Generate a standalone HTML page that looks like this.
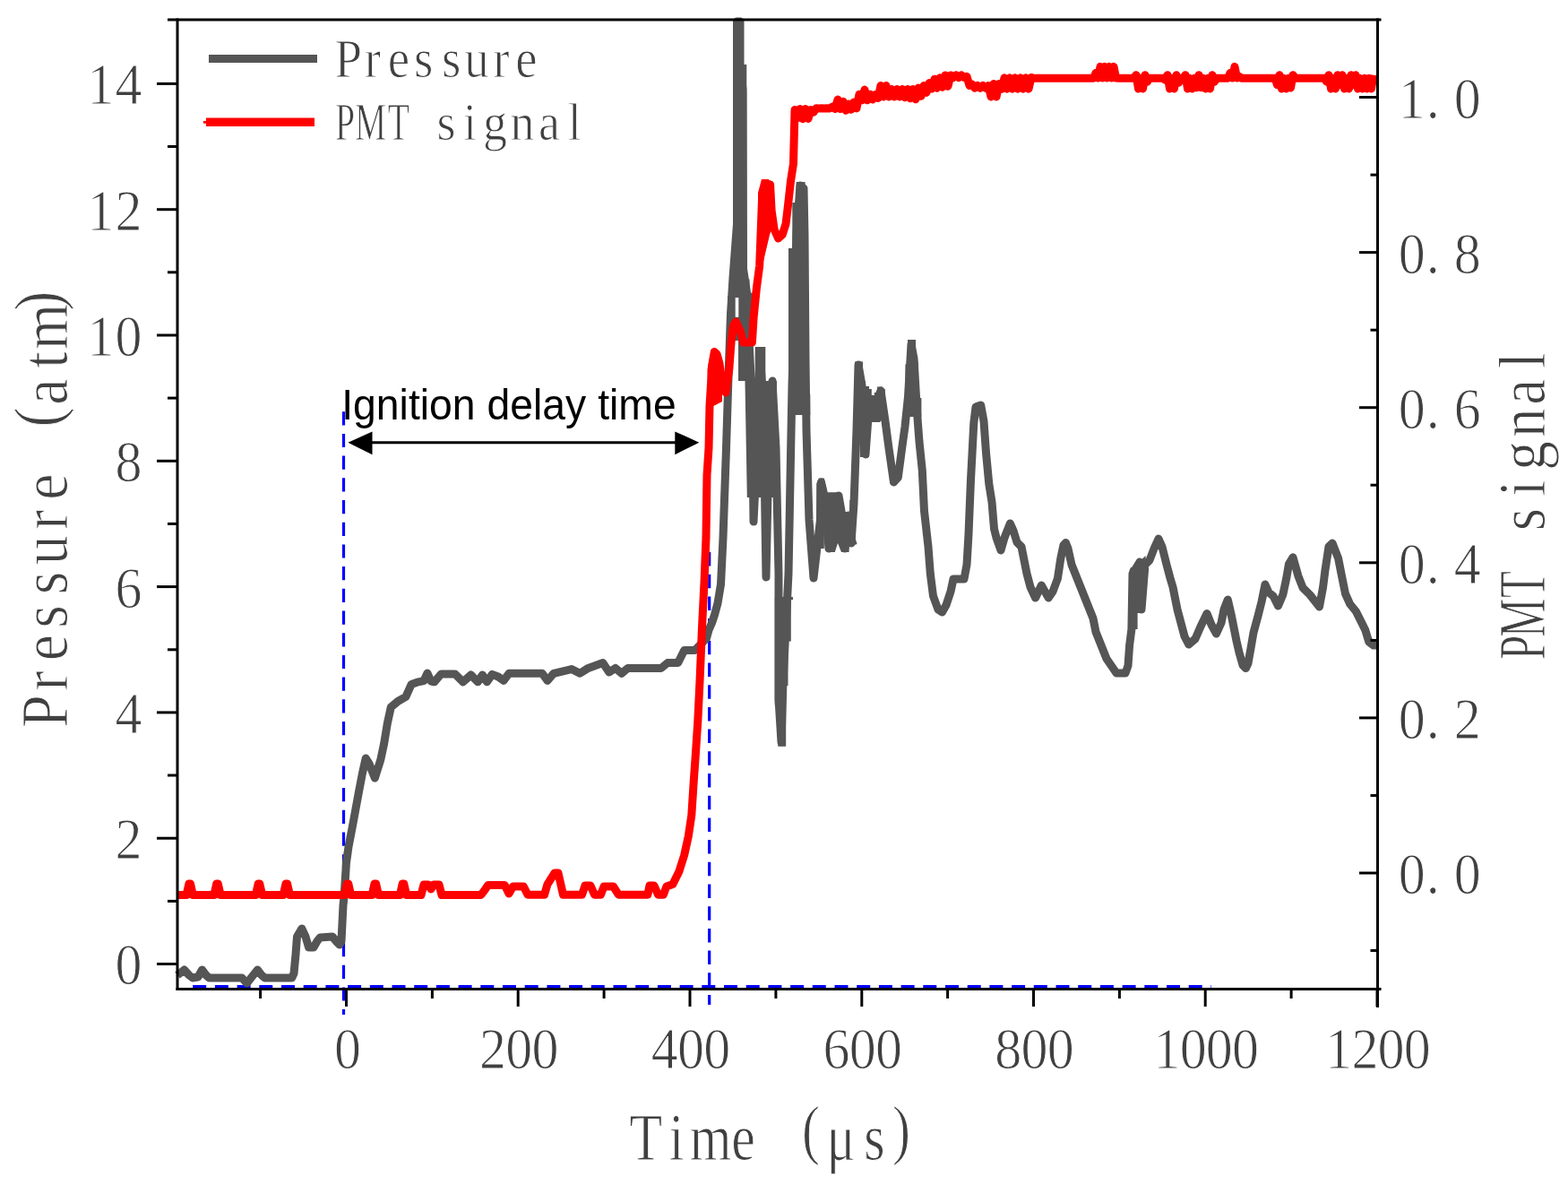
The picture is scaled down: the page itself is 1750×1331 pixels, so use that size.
<!DOCTYPE html><html><head><meta charset="utf-8"><style>html,body{margin:0;padding:0;background:#fff;overflow:hidden}svg{display:block}</style></head><body><svg width="1750" height="1331" viewBox="0 0 1750 1331"><rect x="0" y="0" width="1750" height="1331" fill="#fff"/><line x1="215.2" y1="1100.7" x2="1352" y2="1100.7" stroke="#0000ff" stroke-width="3.2" stroke-dasharray="15,9.7"/><line x1="383.5" y1="459.2" x2="383.5" y2="1132" stroke="#0000ff" stroke-width="3.2" stroke-dasharray="15.2,9.5"/><line x1="791.7" y1="616" x2="791.7" y2="1121" stroke="#0000ff" stroke-width="3.2" stroke-dasharray="15.5,9.2"/><polyline points="198.0,1088.0 205.7,1082.0 211.0,1088.0 215.0,1091.0 221.0,1090.0 225.5,1082.0 230.0,1088.0 233.5,1091.0 270.0,1091.0 275.5,1097.0 281.0,1090.0 287.4,1082.0 292.0,1088.0 295.6,1091.0 325.7,1091.0 328.0,1086.0 330.0,1065.0 331.5,1045.0 336.8,1036.0 341.0,1045.0 344.6,1057.0 350.0,1057.0 354.0,1050.0 357.2,1046.0 371.0,1045.0 376.0,1051.0 379.0,1054.0 381.0,1050.0 382.0,1030.0 383.0,1010.0 384.0,1001.0 386.5,962.5 389.0,944.7 393.0,924.0 396.7,904.0 400.5,883.4 404.4,863.0 408.2,846.0 412.0,852.0 418.4,868.0 424.8,847.6 428.6,829.8 432.4,806.8 436.3,789.0 444.0,782.5 452.9,777.4 459.2,763.4 466.9,760.8 473.0,759.6 477.0,751.0 481.0,760.0 484.8,760.8 492.4,751.9 507.8,751.9 516.7,760.8 525.6,753.0 533.3,760.8 538.4,753.0 543.5,760.8 549.3,752.4 556.0,755.0 562.1,759.4 568.0,751.3 605.2,751.3 611.0,759.4 618.0,751.3 637.9,746.6 647.2,751.3 656.5,745.4 672.8,739.6 679.8,750.0 686.8,745.4 693.8,751.3 700.8,745.4 738.0,745.4 745.0,739.6 756.7,739.6 763.7,725.6 775.3,725.6 784.6,716.3 788.5,712.0 791.0,703.0 794.5,695.0 797.5,686.0 801.0,673.0 804.5,652.0 807.0,600.0 810.5,500.0 813.0,420.0 815.5,350.0 818.0,310.0 822.5,250.0 822.5,24.0 826.0,24.0 826.0,72.0 829.0,100.0 829.5,300.0 834.0,330.0 836.0,380.0 838.0,420.0 840.0,500.0 841.0,582.0 845.0,500.0 848.0,392.0 852.0,450.0 855.0,644.0 858.0,500.0 862.0,425.0 866.0,500.0 869.0,640.0 869.0,780.0 872.0,828.0 874.0,760.0 877.0,700.0 880.0,640.0 884.0,430.0 889.0,260.0 893.0,207.0 897.0,210.0 898.0,262.0 899.0,400.0 900.0,480.0 903.0,580.0 908.0,645.0 915.5,580.0 916.5,538.0 920.0,553.0 925.0,612.0 930.0,556.0 936.0,553.0 939.0,570.0 943.0,612.0 947.0,575.0 950.0,606.0 953.0,562.0 956.0,480.0 958.0,407.0 962.0,430.0 966.0,507.0 970.0,452.0 975.0,455.0 983.0,436.0 988.0,470.0 992.0,500.0 997.5,538.0 1002.3,532.7 1006.8,499.0 1010.0,476.0 1013.5,442.5 1017.0,384.0 1020.0,400.0 1023.5,460.0 1026.0,493.0 1029.3,525.0 1031.5,570.0 1036.0,610.0 1038.3,640.0 1041.5,665.0 1047.0,680.0 1051.5,683.0 1056.0,675.0 1061.0,660.0 1064.0,646.0 1076.0,646.0 1079.0,630.0 1081.0,596.0 1083.4,537.0 1086.8,472.0 1089.0,454.0 1094.7,452.0 1098.0,470.0 1100.5,505.0 1103.8,540.0 1107.0,560.0 1109.5,590.0 1112.0,600.0 1117.0,614.0 1121.0,600.0 1125.0,590.0 1127.4,584.0 1131.0,592.0 1135.0,605.0 1140.0,610.0 1143.0,625.0 1146.0,640.0 1150.0,655.0 1155.6,667.0 1162.3,653.0 1170.2,667.0 1175.0,660.0 1180.4,645.5 1183.8,623.0 1187.0,608.0 1189.4,605.5 1192.0,612.0 1196.0,630.0 1202.0,645.0 1208.0,660.0 1214.0,675.0 1220.0,690.0 1223.0,705.0 1229.0,720.0 1235.0,735.0 1242.6,746.0 1246.0,751.0 1256.0,751.0 1259.0,742.8 1260.6,720.0 1262.9,702.0 1264.0,640.0 1272.0,627.0 1274.0,680.0 1278.0,630.0 1283.0,625.0 1288.0,612.0 1293.0,601.0 1297.0,610.0 1302.0,630.0 1306.0,645.0 1309.0,655.0 1311.0,665.0 1314.0,680.0 1318.0,695.0 1322.0,710.0 1326.7,719.0 1334.0,712.8 1340.0,699.0 1347.0,684.5 1352.0,697.0 1357.5,707.0 1363.0,695.0 1366.0,680.0 1370.3,669.0 1374.0,685.0 1377.0,700.0 1380.0,715.0 1383.0,728.0 1387.0,742.0 1390.4,745.5 1393.0,740.0 1396.3,721.5 1399.0,705.7 1404.0,687.3 1408.0,671.5 1412.0,652.0 1416.0,661.0 1421.0,665.0 1426.5,676.0 1431.8,663.6 1435.7,645.2 1438.4,629.4 1443.0,621.8 1448.9,642.6 1454.0,655.7 1462.0,663.6 1472.5,677.0 1476.5,655.7 1479.0,636.0 1483.0,609.7 1487.0,606.0 1493.6,622.9 1497.5,642.6 1501.5,662.3 1506.7,674.0 1513.3,682.0 1518.6,692.6 1523.8,703.0 1527.8,716.2 1533.0,720.0 1536.0,720.0" fill="none" stroke="#555555" stroke-width="9" stroke-linejoin="round" stroke-linecap="butt"/><polygon points="818.0,22.0 830.0,22.0 830.0,72.0 833.3,72.0 833.3,311.4 836.5,311.4 836.5,326.8 839.6,326.8 839.6,425.0 824.0,425.0 824.0,380.0 812.2,380.0 812.2,330.0 815.1,330.0 815.1,295.7 818.0,295.7" fill="#555555"/><polygon points="831.0,399.0 839.4,399.0 839.4,422.0 842.7,422.0 842.7,387.0 854.3,387.0 854.3,425.0 867.0,425.0 867.0,555.0 833.8,555.0" fill="#555555"/><polygon points="888.6,203.0 898.6,203.0 898.6,261.0 901.4,261.0 901.4,440.0 904.3,440.0 904.3,463.0 880.0,463.0 880.0,277.0 884.3,277.0 884.3,226.0 888.6,226.0" fill="#555555"/><polygon points="911.2,539.5 914.0,533.5 919.8,533.5 923.0,549.3 935.6,549.3 938.6,552.0 938.6,571.0 948.3,571.0 948.3,558.0 951.3,558.0 951.3,590.0 956.6,607.0 947.6,610.0 947.6,616.0 939.0,616.0 935.0,606.0 931.8,616.0 923.2,616.0 923.2,580.0 919.8,580.0 919.8,612.0 911.2,612.0" fill="#555555"/><polygon points="954.0,403.6 963.0,403.6 963.0,425.0 966.0,425.0 966.0,431.0 970.0,431.0 970.0,434.0 972.8,434.0 972.8,441.0 975.8,441.0 975.8,438.0 979.0,438.0 979.0,431.4 985.0,431.4 985.0,434.0 987.8,434.0 987.8,465.0 981.8,471.0 969.8,471.0 969.8,510.0 960.0,510.0 960.0,480.0 954.0,478.0" fill="#555555"/><polygon points="1013.0,379.0 1022.0,379.0 1022.0,403.6 1024.6,403.6 1024.6,444.0 1028.4,444.0 1028.4,465.0 1010.4,465.0 1010.4,406.6 1013.0,406.6" fill="#555555"/><polygon points="864.8,666.0 885.0,666.0 885.0,669.3 882.8,669.3 882.8,715.5 879.5,715.5 879.5,765.0 877.2,765.0 877.2,832.7 868.2,832.7 868.2,786.5 864.8,786.5" fill="#555555"/><polygon points="1260.6,636.0 1262.0,633.0 1269.6,633.0 1272.0,626.0 1278.6,620.0 1278.6,651.0 1276.4,651.0 1276.4,684.0 1269.6,684.0 1269.6,702.0 1260.6,702.0" fill="#555555"/><rect x="820.7" y="332" width="3.6" height="21.8" fill="#fff"/><polygon points="789.5,412.0 793.5,392.0 801.0,392.0 804.0,402.0 806.0,425.0 806.0,448.0 790.5,456.0" fill="#ff0000"/><polygon points="846.0,296.0 846.0,215.0 850.0,200.0 858.0,200.0 861.5,215.0 863.0,250.0 859.0,262.0 851.0,296.0" fill="#ff0000"/><polyline points="198.0,998.5 208.1,998.5 210.9,986.0 212.5,986.0 215.3,998.5 238.9,998.5 241.7,986.0 243.3,986.0 246.1,998.5 285.4,998.5 288.2,986.0 289.8,986.0 292.6,998.5 316.2,998.5 319.0,986.0 320.6,986.0 323.4,998.5 384.4,998.5 387.2,986.0 388.8,986.0 391.6,998.5 415.2,998.5 418.0,986.0 419.6,986.0 422.4,998.5 446.4,998.5 449.2,986.0 450.8,986.0 453.6,998.5 470.0,998.5 473.0,987.0 478.0,987.0 481.0,992.0 484.0,987.0 490.0,987.0 493.0,998.5 536.7,998.5 541.0,993.0 544.7,987.5 563.3,987.5 568.0,997.0 572.6,989.0 584.3,989.0 589.0,998.2 607.6,998.2 611.0,986.6 619.0,974.0 623.0,974.0 628.5,998.2 649.5,998.2 653.0,988.0 659.0,988.0 663.5,998.2 670.5,998.2 674.0,989.0 684.5,989.0 690.3,998.2 722.9,998.2 725.0,988.0 730.0,988.0 734.5,998.2 740.4,998.2 743.9,989.0 750.9,986.6 757.8,972.6 763.7,954.0 768.3,933.0 771.8,909.7 774.2,872.4 776.5,839.8 778.8,804.8 781.1,758.2 783.5,700.0 786.0,650.0 788.0,600.0 789.0,530.0 791.0,500.0 792.0,453.0 794.8,407.3 797.3,392.5 800.0,395.0 803.0,405.6 806.4,430.0 810.0,438.0 813.8,412.0 816.3,379.0 818.5,363.0 821.2,359.0 826.2,369.3 829.5,382.0 839.4,382.0 841.1,354.4 844.4,321.3 847.7,296.5 850.6,220.0 855.0,204.5 859.6,206.0 861.1,235.0 864.1,256.0 868.6,266.0 873.1,262.0 877.0,250.0 879.5,229.0 882.5,202.0 885.5,182.6 887.0,122.5 890.0,131.8 893.0,121.5 896.0,132.7 899.0,121.5 902.0,132.4 905.0,122.5 908.0,125.2 911.0,120.8 914.0,121.0 917.0,120.8 920.0,121.0 923.0,120.8 926.0,121.0 929.0,119.2 932.0,121.5 935.0,111.1 938.0,121.5 941.0,113.3 944.0,123.2 947.0,115.9 950.0,122.3 953.0,114.0 956.0,120.9 959.0,105.2 962.0,111.8 965.0,100.0 968.0,111.8 971.0,105.2 974.0,110.9 977.0,105.6 980.0,109.5 983.0,95.5 986.0,108.0 989.0,95.5 992.0,108.0 995.0,99.5 998.0,108.0 1001.0,99.5 1004.0,108.0 1007.0,99.5 1010.0,108.7 1013.0,99.5 1016.0,109.8 1019.0,99.5 1022.0,110.8 1025.0,98.1 1028.0,107.3 1031.0,95.5 1034.0,103.4 1037.0,92.6 1040.0,99.1 1043.0,88.2 1046.0,98.2 1049.0,86.8 1052.0,97.2 1055.0,83.9 1058.0,96.3 1061.0,83.9 1064.0,86.5 1067.0,83.9 1070.0,86.5 1073.0,83.9 1076.0,86.5 1079.0,85.3 1082.0,95.5 1085.0,94.2 1088.0,98.2 1091.0,95.5 1094.0,98.2 1097.0,95.5 1100.0,98.2 1103.0,95.5 1106.0,108.0 1109.0,93.5 1112.0,108.0 1115.0,93.5 1118.0,99.2 1121.0,86.8 1124.0,99.2 1127.0,86.8 1130.0,99.2 1133.0,86.8 1136.0,99.2 1139.0,86.8 1142.0,99.2 1145.0,86.8 1148.0,99.2 1151.0,86.4 1153.0,87.2 1155.5,87.2 1158.0,87.2 1160.5,87.2 1163.0,87.2 1165.5,87.2 1168.0,87.2 1170.5,87.2 1173.0,87.2 1175.5,87.2 1178.0,87.2 1180.5,87.2 1183.0,87.2 1185.5,87.2 1188.0,87.2 1190.5,87.2 1193.0,87.2 1195.5,87.2 1198.0,87.2 1200.5,87.2 1203.0,87.2 1205.5,87.2 1208.0,87.2 1210.5,87.2 1213.0,87.2 1215.5,87.2 1218.0,87.2 1220.5,87.2 1223.0,81.3 1225.5,87.1 1228.0,74.3 1230.5,87.1 1233.0,74.3 1235.5,87.1 1238.0,74.3 1240.5,87.1 1243.0,74.3 1245.5,87.1 1248.0,87.2 1250.5,87.2 1253.0,87.2 1255.5,87.2 1258.0,87.2 1260.5,87.2 1263.0,87.2 1265.5,87.2 1268.0,83.7 1270.5,99.0 1273.0,87.3 1275.5,99.0 1278.0,83.7 1280.5,91.2 1283.0,87.2 1285.5,87.2 1288.0,87.2 1290.5,87.2 1293.0,87.2 1295.5,87.2 1298.0,87.2 1300.5,89.2 1303.0,83.7 1305.5,99.0 1308.0,87.3 1310.5,99.0 1313.0,83.7 1315.5,92.3 1318.0,87.2 1320.5,87.2 1323.0,83.7 1325.5,99.0 1328.0,87.3 1330.5,99.0 1333.0,87.3 1335.5,97.8 1338.0,83.7 1340.5,97.8 1343.0,87.3 1345.5,99.0 1348.0,87.3 1350.5,99.0 1353.0,83.7 1355.5,91.2 1358.0,87.2 1360.5,87.2 1363.0,87.2 1365.5,87.2 1368.0,87.2 1370.5,87.2 1373.0,81.3 1375.5,87.1 1378.0,74.3 1380.5,87.1 1383.0,85.3 1385.5,87.2 1388.0,87.2 1390.5,87.2 1393.0,87.2 1395.5,87.2 1398.0,87.2 1400.5,87.2 1403.0,87.2 1405.5,87.2 1408.0,87.2 1410.5,87.2 1413.0,87.2 1415.5,87.2 1418.0,87.2 1420.5,87.2 1423.0,87.2 1425.5,94.8 1428.0,83.7 1430.5,99.0 1433.0,87.3 1435.5,99.0 1438.0,87.3 1440.5,98.1 1443.0,83.7 1445.5,87.2 1448.0,87.2 1450.5,87.2 1453.0,87.2 1455.5,87.2 1458.0,87.2 1460.5,87.2 1463.0,87.2 1465.5,87.2 1468.0,87.2 1470.5,87.2 1473.0,87.2 1475.5,87.2 1478.0,87.2 1480.5,91.2 1483.0,83.7 1485.5,99.0 1488.0,87.3 1490.5,99.0 1493.0,83.7 1495.5,94.8 1498.0,83.7 1500.5,99.0 1503.0,87.3 1505.5,99.0 1508.0,83.7 1510.5,94.8 1513.0,83.7 1515.5,99.0 1518.0,87.3 1520.5,99.0 1523.0,87.3 1525.5,99.0 1528.0,87.3 1530.5,99.0 1533.0,83.7" fill="none" stroke="#ff0000" stroke-width="9" stroke-linejoin="round" stroke-linecap="butt"/><line x1="198.0" y1="20.5" x2="198.0" y2="1105.0" stroke="#000" stroke-width="3"/><line x1="1537.5" y1="20.5" x2="1537.5" y2="1124" stroke="#000" stroke-width="3"/><line x1="187" y1="22.0" x2="1541.5" y2="22.0" stroke="#000" stroke-width="3"/><line x1="196.5" y1="1103.5" x2="1541.5" y2="1103.5" stroke="#000" stroke-width="3"/><line x1="175" y1="1075.5" x2="198.0" y2="1075.5" stroke="#000" stroke-width="3"/><line x1="187" y1="1005.4" x2="198.0" y2="1005.4" stroke="#000" stroke-width="3"/><line x1="175" y1="935.2" x2="198.0" y2="935.2" stroke="#000" stroke-width="3"/><line x1="187" y1="865.0" x2="198.0" y2="865.0" stroke="#000" stroke-width="3"/><line x1="175" y1="794.9" x2="198.0" y2="794.9" stroke="#000" stroke-width="3"/><line x1="187" y1="724.8" x2="198.0" y2="724.8" stroke="#000" stroke-width="3"/><line x1="175" y1="654.6" x2="198.0" y2="654.6" stroke="#000" stroke-width="3"/><line x1="187" y1="584.4" x2="198.0" y2="584.4" stroke="#000" stroke-width="3"/><line x1="175" y1="514.3" x2="198.0" y2="514.3" stroke="#000" stroke-width="3"/><line x1="187" y1="444.1" x2="198.0" y2="444.1" stroke="#000" stroke-width="3"/><line x1="175" y1="374.0" x2="198.0" y2="374.0" stroke="#000" stroke-width="3"/><line x1="187" y1="303.8" x2="198.0" y2="303.8" stroke="#000" stroke-width="3"/><line x1="175" y1="233.7" x2="198.0" y2="233.7" stroke="#000" stroke-width="3"/><line x1="187" y1="163.5" x2="198.0" y2="163.5" stroke="#000" stroke-width="3"/><line x1="175" y1="93.4" x2="198.0" y2="93.4" stroke="#000" stroke-width="3"/><line x1="290.6" y1="1103.5" x2="290.6" y2="1114" stroke="#000" stroke-width="3"/><line x1="386.5" y1="1103.5" x2="386.5" y2="1123" stroke="#000" stroke-width="3"/><line x1="482.4" y1="1103.5" x2="482.4" y2="1114" stroke="#000" stroke-width="3"/><line x1="578.2" y1="1103.5" x2="578.2" y2="1123" stroke="#000" stroke-width="3"/><line x1="674.1" y1="1103.5" x2="674.1" y2="1114" stroke="#000" stroke-width="3"/><line x1="770.0" y1="1103.5" x2="770.0" y2="1123" stroke="#000" stroke-width="3"/><line x1="865.9" y1="1103.5" x2="865.9" y2="1114" stroke="#000" stroke-width="3"/><line x1="961.8" y1="1103.5" x2="961.8" y2="1123" stroke="#000" stroke-width="3"/><line x1="1057.6" y1="1103.5" x2="1057.6" y2="1114" stroke="#000" stroke-width="3"/><line x1="1153.5" y1="1103.5" x2="1153.5" y2="1123" stroke="#000" stroke-width="3"/><line x1="1249.4" y1="1103.5" x2="1249.4" y2="1114" stroke="#000" stroke-width="3"/><line x1="1345.2" y1="1103.5" x2="1345.2" y2="1123" stroke="#000" stroke-width="3"/><line x1="1441.1" y1="1103.5" x2="1441.1" y2="1114" stroke="#000" stroke-width="3"/><line x1="1537.0" y1="1103.5" x2="1537.0" y2="1123" stroke="#000" stroke-width="3"/><line x1="1529.5" y1="1060.5" x2="1537.5" y2="1060.5" stroke="#000" stroke-width="3"/><line x1="1517" y1="974.0" x2="1537.5" y2="974.0" stroke="#000" stroke-width="3"/><line x1="1529.5" y1="887.5" x2="1537.5" y2="887.5" stroke="#000" stroke-width="3"/><line x1="1517" y1="800.9" x2="1537.5" y2="800.9" stroke="#000" stroke-width="3"/><line x1="1529.5" y1="714.4" x2="1537.5" y2="714.4" stroke="#000" stroke-width="3"/><line x1="1517" y1="627.8" x2="1537.5" y2="627.8" stroke="#000" stroke-width="3"/><line x1="1529.5" y1="541.2" x2="1537.5" y2="541.2" stroke="#000" stroke-width="3"/><line x1="1517" y1="454.7" x2="1537.5" y2="454.7" stroke="#000" stroke-width="3"/><line x1="1529.5" y1="368.2" x2="1537.5" y2="368.2" stroke="#000" stroke-width="3"/><line x1="1517" y1="281.6" x2="1537.5" y2="281.6" stroke="#000" stroke-width="3"/><line x1="1529.5" y1="195.1" x2="1537.5" y2="195.1" stroke="#000" stroke-width="3"/><line x1="1517" y1="108.5" x2="1537.5" y2="108.5" stroke="#000" stroke-width="3"/><text transform="scale(0.93,1)" x="154.30" y="1098.50" font-size="64.5" text-anchor="middle" font-family="Liberation Serif, serif" fill="#404040" stroke="#fff" stroke-width="1.0">0</text><text transform="scale(0.93,1)" x="154.30" y="958.20" font-size="64.5" text-anchor="middle" font-family="Liberation Serif, serif" fill="#404040" stroke="#fff" stroke-width="1.0">2</text><text transform="scale(0.93,1)" x="154.30" y="817.90" font-size="64.5" text-anchor="middle" font-family="Liberation Serif, serif" fill="#404040" stroke="#fff" stroke-width="1.0">4</text><text transform="scale(0.93,1)" x="154.30" y="677.60" font-size="64.5" text-anchor="middle" font-family="Liberation Serif, serif" fill="#404040" stroke="#fff" stroke-width="1.0">6</text><text transform="scale(0.93,1)" x="154.30" y="537.30" font-size="64.5" text-anchor="middle" font-family="Liberation Serif, serif" fill="#404040" stroke="#fff" stroke-width="1.0">8</text><text transform="scale(0.93,1)" x="121.08 154.19" y="397.00" font-size="64.5" text-anchor="middle" font-family="Liberation Serif, serif" fill="#404040" stroke="#fff" stroke-width="1.0">10</text><text transform="scale(0.93,1)" x="121.08 154.19" y="256.70" font-size="64.5" text-anchor="middle" font-family="Liberation Serif, serif" fill="#404040" stroke="#fff" stroke-width="1.0">12</text><text transform="scale(0.93,1)" x="121.08 154.19" y="116.40" font-size="64.5" text-anchor="middle" font-family="Liberation Serif, serif" fill="#404040" stroke="#fff" stroke-width="1.0">14</text><text transform="scale(0.93,1)" x="417.20" y="1192.00" font-size="64.5" text-anchor="middle" font-family="Liberation Serif, serif" fill="#404040" stroke="#fff" stroke-width="1.0">0</text><text transform="scale(0.93,1)" x="591.45 622.85 654.25" y="1192.00" font-size="64.5" text-anchor="middle" font-family="Liberation Serif, serif" fill="#404040" stroke="#fff" stroke-width="1.0">200</text><text transform="scale(0.93,1)" x="797.63 829.03 860.43" y="1192.00" font-size="64.5" text-anchor="middle" font-family="Liberation Serif, serif" fill="#404040" stroke="#fff" stroke-width="1.0">400</text><text transform="scale(0.93,1)" x="1003.82 1035.22 1066.61" y="1192.00" font-size="64.5" text-anchor="middle" font-family="Liberation Serif, serif" fill="#404040" stroke="#fff" stroke-width="1.0">600</text><text transform="scale(0.93,1)" x="1210.00 1241.40 1272.80" y="1192.00" font-size="64.5" text-anchor="middle" font-family="Liberation Serif, serif" fill="#404040" stroke="#fff" stroke-width="1.0">800</text><text transform="scale(0.93,1)" x="1400.48 1431.88 1463.28 1494.68" y="1192.00" font-size="64.5" text-anchor="middle" font-family="Liberation Serif, serif" fill="#404040" stroke="#fff" stroke-width="1.0">1000</text><text transform="scale(0.93,1)" x="1606.67 1638.06 1669.46 1700.86" y="1192.00" font-size="64.5" text-anchor="middle" font-family="Liberation Serif, serif" fill="#404040" stroke="#fff" stroke-width="1.0">1200</text><text transform="scale(0.93,1)" x="1694.41 1719.57 1761.08" y="997.30" font-size="64.5" text-anchor="middle" font-family="Liberation Serif, serif" fill="#404040" stroke="#fff" stroke-width="1.0">0.0</text><text transform="scale(0.93,1)" x="1694.41 1719.57 1761.08" y="824.20" font-size="64.5" text-anchor="middle" font-family="Liberation Serif, serif" fill="#404040" stroke="#fff" stroke-width="1.0">0.2</text><text transform="scale(0.93,1)" x="1694.41 1719.57 1761.08" y="651.10" font-size="64.5" text-anchor="middle" font-family="Liberation Serif, serif" fill="#404040" stroke="#fff" stroke-width="1.0">0.4</text><text transform="scale(0.93,1)" x="1694.41 1719.57 1761.08" y="478.00" font-size="64.5" text-anchor="middle" font-family="Liberation Serif, serif" fill="#404040" stroke="#fff" stroke-width="1.0">0.6</text><text transform="scale(0.93,1)" x="1694.41 1719.57 1761.08" y="304.90" font-size="64.5" text-anchor="middle" font-family="Liberation Serif, serif" fill="#404040" stroke="#fff" stroke-width="1.0">0.8</text><text transform="scale(0.93,1)" x="1694.41 1719.57 1761.08" y="131.80" font-size="64.5" text-anchor="middle" font-family="Liberation Serif, serif" fill="#404040" stroke="#fff" stroke-width="1.0">1.0</text><text transform="scale(0.8,1)" x="901.00 943.75 991.25 1036.88 1083.75 1131.25 1173.12 1220.00 1257.50" y="1294.00 1294.00 1294.00 1294.00 1294.00 1285.50 1294.00 1294.00 1285.50" font-size="75" text-anchor="middle" font-family="Liberation Serif, serif" fill="#404040" stroke="#fff" stroke-width="1.0">Time (μs)</text><text transform="rotate(-90) scale(0.88,1)" x="-901.93 -863.07 -821.14 -781.70 -739.20 -697.39 -659.09 -617.16 -572.73 -529.09 -496.82 -456.48 -414.20 -381.59" y="75.30 75.30 75.30 75.30 75.30 75.30 75.30 75.30 75.30 67.30 75.30 75.30 75.30 67.30" font-size="75" text-anchor="middle" font-family="Liberation Serif, serif" fill="#404040" stroke="#fff" stroke-width="1.0">Pressure (atm)</text><text transform="rotate(-90) scale(0.66,1)" x="-1094.70 -1044.39 -988.03" y="1723.60" font-size="74" text-anchor="middle" font-family="Liberation Serif, serif" fill="#404040" stroke="#fff" stroke-width="1.0">PMT</text><text transform="rotate(-90) scale(0.88,1)" x="-658.52 -618.86 -577.95 -536.02 -497.05 -456.93" y="1723.60" font-size="74" text-anchor="middle" font-family="Liberation Serif, serif" fill="#404040" stroke="#fff" stroke-width="1.0">signal</text><text transform="scale(0.9,1)" x="431.89 462.22 494.33 525.22 559.56 591.00 621.44 652.78" y="85.60" font-size="61" text-anchor="middle" font-family="Liberation Serif, serif" fill="#404040" stroke="#fff" stroke-width="1.0">Pressure</text><text transform="scale(0.66,1)" x="583.18 626.67 673.94" y="155.90" font-size="60" text-anchor="middle" font-family="Liberation Serif, serif" fill="#404040" stroke="#fff" stroke-width="1.0">PMT</text><text transform="scale(0.9,1)" x="553.33 582.78 613.78 647.67 681.00 712.44" y="155.90" font-size="60" text-anchor="middle" font-family="Liberation Serif, serif" fill="#404040" stroke="#fff" stroke-width="1.0">signal</text><rect x="233" y="61" width="121" height="9" fill="#555555"/><rect x="230" y="131.5" width="121" height="9.5" fill="#ff0000"/><rect x="227" y="134.9" width="4" height="2.8" fill="#ff0000"/><text x="381.2" y="468.2" font-size="48.5" textLength="373.5" lengthAdjust="spacingAndGlyphs" font-family="Liberation Sans, sans-serif" fill="#000">Ignition delay time</text><line x1="400" y1="493.7" x2="768" y2="493.7" stroke="#000" stroke-width="3"/><polygon points="388.4,493.7 415.5,481.4 415.5,507.2" fill="#000"/><polygon points="780.3,493.7 753.3,481.4 753.3,507.2" fill="#000"/></svg></body></html>
